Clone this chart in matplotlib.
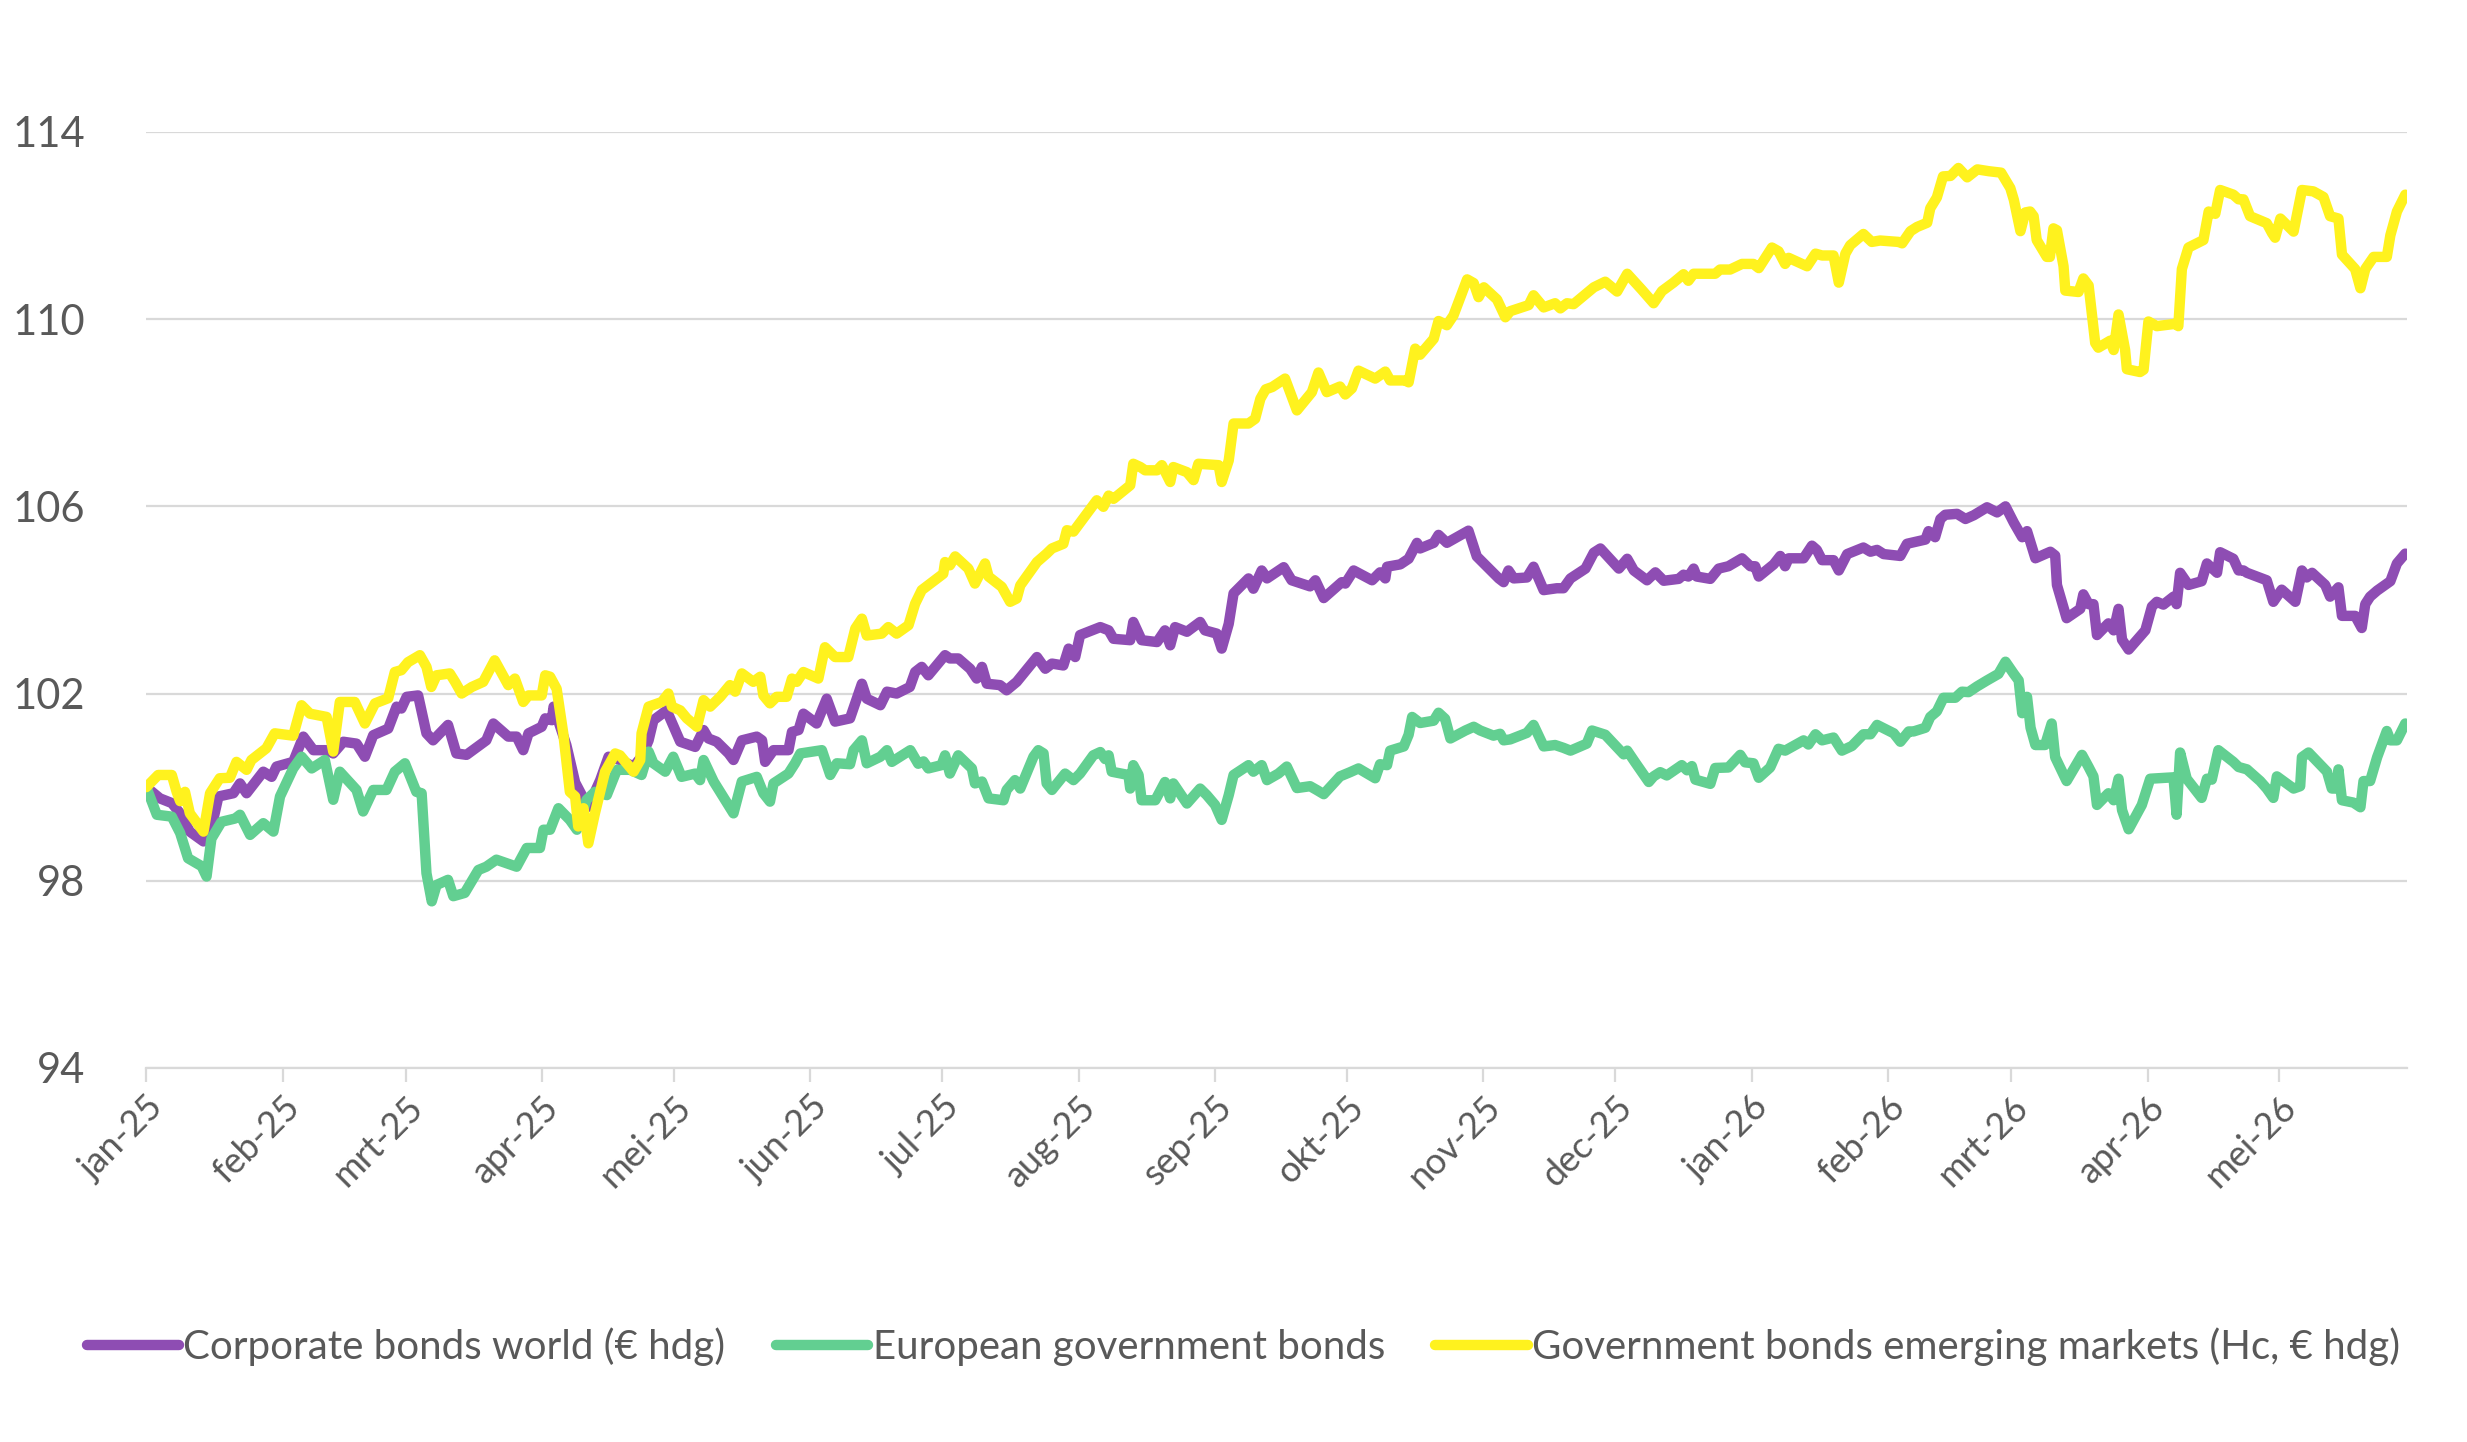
import matplotlib.pyplot as plt
import matplotlib.dates as mdates
import pandas as pd

plt.rcParams['font.family'] = ['Lato', 'DejaVu Sans']

# days since 1 jan 2025, index values
start = pd.Timestamp('2025-01-01')

corp_days = [0, 3.1, 5.8, 7.7, 9.9, 13.0, 14.5, 16.4, 19.8, 21.3, 22.8, 26.6, 28.5, 29.6, 33.4, 35.7, 38.0, 41.0,
             42.5, 44.8, 47.8, 49.7, 51.6, 55.0, 56.9, 58.0, 59.2, 61.8, 63.7, 65.2, 68.6, 70.5, 72.8, 77.3, 78.9,
             82.3, 84.2, 85.7, 86.9, 89.9, 90.7, 92.2, 92.6, 95.5, 97.5, 99.4, 100.5, 103.2, 105.1, 107.7, 110.8,
             112.6, 114.2, 115.3, 118.3, 121.4, 124.8, 126.7, 127.8, 129.7, 132.4, 133.5, 135.4, 138.8, 140.0, 140.7,
             142.6, 146.0, 146.8, 148.3, 149.4, 152.4, 154.7, 156.6, 160.0, 162.7, 163.8, 166.9, 168.4, 170.6, 173.6,
             174.8, 176.3, 177.8, 181.6, 182.7, 184.6, 187.3, 188.8, 190.0, 191.1, 194.1, 195.6, 197.9, 202.5, 204.4,
             205.9, 208.5, 209.7, 211.2, 212.3, 216.9, 218.8, 219.9, 223.7, 224.4, 226.3, 229.8, 231.6, 232.8, 233.9,
             236.6, 239.6, 240.7, 243.4, 244.5, 246.1, 247.2, 250.6, 251.7, 253.6, 254.8, 258.6, 260.4, 264.6, 265.8,
             267.7, 271.8, 272.6, 274.5, 278.7, 280.5, 281.7, 282.1, 285.1, 287.0, 288.9, 289.6, 292.7, 293.8, 295.7,
             300.6, 302.5, 307.5, 308.6, 309.7, 310.9, 313.9, 315.4, 317.7, 320.7, 322.2, 323.8, 327.2, 329.1, 330.6,
             334.8, 336.7, 338.2, 341.2, 343.1, 345.0, 348.4, 349.5, 350.6, 351.8, 352.5, 355.6, 357.5, 359.7, 362.8,
             364.7, 365.8, 366.6, 370.0, 371.5, 372.6, 373.4, 376.8, 378.7, 379.8, 381.0, 383.6, 384.8, 386.7, 390.4,
             392.0, 393.5, 395.0, 398.8, 400.3, 404.5, 405.2, 406.7, 407.9, 409.0, 411.7, 413.6, 415.5, 418.5, 420.8,
             422.7, 424.6, 426.5, 427.6, 429.5, 432.9, 434.0, 434.4, 436.6, 439.7, 440.4, 441.6, 442.7, 443.5, 446.1,
             447.3, 448.4, 449.2, 450.7, 454.5, 456.0, 457.1, 458.6, 460.9, 461.6, 462.4, 464.3, 467.3, 468.5, 470.8,
             471.5, 474.5, 475.7, 476.8, 477.6, 482.1, 483.6, 485.5, 488.6, 490.1, 491.2, 492.4, 495.4, 496.5, 498.4,
             499.2, 502.2, 503.7, 504.5, 505.6, 507.2, 510.2, 510.9, 511.7, 513.6]
corp_vals = [100.0, 99.76, 99.66, 99.44, 99.05, 98.84, 99.0, 99.8, 99.87, 100.08, 99.87, 100.33, 100.22, 100.44,
             100.54, 101.08, 100.79, 100.79, 100.72, 100.97, 100.93, 100.65, 101.11, 101.25, 101.72, 101.68, 101.93,
             101.96, 101.15, 101.0, 101.33, 100.72, 100.69, 101.0, 101.36, 101.08, 101.08, 100.79, 101.15, 101.29,
             101.47, 101.43, 101.72, 100.9, 100.1, 99.76, 99.58, 100.15, 100.65, 100.58, 100.44, 100.65, 101.0,
             101.43, 101.64, 100.97, 100.86, 101.22, 101.04, 100.97, 100.72, 100.58, 101.0, 101.08, 101.0, 100.54,
             100.79, 100.79, 101.18, 101.22, 101.57, 101.36, 101.89, 101.4, 101.47, 102.21, 101.89, 101.75, 102.04,
             102.0, 102.14, 102.46, 102.57, 102.39, 102.82, 102.75, 102.75, 102.53, 102.32, 102.57, 102.21, 102.18,
             102.07, 102.25, 102.78, 102.53, 102.64, 102.6, 102.96, 102.78, 103.25, 103.42, 103.35, 103.17, 103.14,
             103.53, 103.14, 103.1, 103.35, 103.03, 103.42, 103.32, 103.53, 103.35, 103.28, 102.96, 103.49, 104.14,
             104.46, 104.24, 104.63, 104.46, 104.7, 104.42, 104.29, 104.42, 104.04, 104.38, 104.35, 104.63, 104.42,
             104.59, 104.46, 104.71, 104.76, 104.88, 105.22, 105.1, 105.22, 105.39, 105.22, 105.48, 104.93, 104.46,
             104.38, 104.63, 104.46, 104.48, 104.71, 104.21, 104.25, 104.25, 104.46, 104.67, 105.01, 105.1, 104.67,
             104.88, 104.63, 104.42, 104.59, 104.41, 104.45, 104.54, 104.5, 104.67, 104.5, 104.45, 104.67, 104.72,
             104.89, 104.72, 104.72, 104.5, 104.76, 104.94, 104.72, 104.89, 104.89, 105.16, 105.07, 104.85, 104.85,
             104.63, 104.98, 105.12, 105.03, 105.07, 104.98, 104.94, 105.2, 105.29, 105.47, 105.34, 105.73, 105.82,
             105.84, 105.73, 105.81, 105.98, 105.87, 106.0, 105.65, 105.34, 105.47, 104.89, 105.03, 104.95, 104.32,
             103.61, 103.81, 104.12, 103.91, 103.91, 103.25, 103.5, 103.35, 103.81, 103.15, 102.94, 103.35, 103.86,
             103.96, 103.9, 104.07, 103.91, 104.58, 104.32, 104.4, 104.78, 104.58, 105.02, 104.88, 104.63, 104.63,
             104.58, 104.42, 103.96, 104.22, 103.96, 104.63, 104.48, 104.58, 104.32, 104.07, 104.27, 103.66, 103.66,
             103.4, 103.91, 104.07, 104.2, 104.4, 104.58, 104.78, 104.99]

euro_days = [0, 2.4, 5.8, 7.7, 9.5, 12.6, 13.7, 14.8, 17.1, 20.2, 21.3, 23.6, 26.6, 28.9, 30.4, 33.4, 35.3, 37.6,
             40.6, 42.5, 44.0, 47.8, 49.3, 51.6, 54.6, 56.5, 58.8, 61.4, 62.6, 63.7, 64.9, 66.0, 68.6, 69.8, 72.4,
             75.5, 77.3, 79.6, 84.2, 86.5, 89.5, 90.3, 91.8, 93.7, 96.3, 97.9, 100.1, 102.0, 104.7, 107.0, 110.0,
             112.6, 114.2, 115.3, 118.0, 119.8, 121.7, 124.8, 125.9, 126.7, 129.0, 133.5, 135.4, 138.8, 140.3, 141.8,
             142.6, 146.0, 147.5, 148.7, 153.6, 155.5, 157.0, 160.0, 160.8, 162.7, 163.8, 166.9, 168.4, 169.5, 173.7,
             175.5, 176.7, 177.8, 180.8, 181.6, 182.7, 184.6, 187.7, 188.4, 190.0, 191.5, 194.9, 195.6, 197.5, 198.7,
             201.7, 202.8, 204.0, 204.7, 205.9, 208.9, 210.8, 212.3, 215.3, 216.9, 218.0, 218.8, 219.5, 223.3, 223.7,
             224.4, 225.6, 226.3, 229.4, 231.6, 232.8, 233.5, 236.6, 239.6, 241.1, 243.0, 244.5, 246.1, 247.2, 250.6,
             251.7, 253.6, 254.8, 257.4, 259.3, 261.6, 264.6, 266.1, 267.7, 271.4, 273.7, 275.6, 279.4, 280.5, 282.1,
             282.8, 285.9, 287.0, 287.8, 289.6, 292.7, 293.8, 295.3, 296.5, 299.9, 301.8, 303.3, 306.3, 307.8, 308.6,
             310.1, 313.9, 315.4, 317.7, 320.3, 322.2, 323.8, 327.5, 328.7, 331.7, 335.9, 336.7, 338.5, 341.6, 342.7,
             344.2, 345.7, 349.1, 350.3, 351.4, 352.2, 355.6, 356.7, 359.7, 362.4, 363.5, 365.4, 366.6, 369.2, 371.1,
             372.6, 374.5, 376.8, 377.9, 379.5, 381.0, 383.6, 385.5, 387.8, 390.4, 392.0, 393.5, 395.8, 397.3, 398.8,
             400.7, 401.8, 404.5, 405.6, 407.1, 408.6, 411.3, 412.8, 414.3, 416.2, 418.5, 421.1, 422.7, 424.6, 425.7,
             426.5, 427.6, 428.4, 429.5, 431.7, 433.2, 434.0, 436.6, 440.1, 441.6, 442.7, 443.5, 446.1, 447.3, 448.4,
             449.2, 450.7, 453.7, 455.6, 460.9, 461.6, 462.4, 463.9, 467.3, 468.5, 469.6, 471.1, 474.5, 475.7, 477.6,
             480.6, 482.1, 483.6, 484.4, 488.2, 489.7, 490.1, 491.6, 495.8, 496.9, 498.1, 498.4, 499.2, 501.8, 503.4,
             504.1, 505.6, 507.2, 509.4, 510.2, 511.7, 513.6]
euro_vals = [100.0, 99.41, 99.37, 99.02, 98.48, 98.31, 98.09, 98.9, 99.26, 99.33, 99.41, 98.98, 99.23, 99.05, 99.8,
             100.4, 100.65, 100.4, 100.58, 99.73, 100.33, 99.94, 99.48, 99.94, 99.94, 100.33, 100.51, 99.9, 99.87,
             98.16, 97.56, 97.91, 98.02, 97.67, 97.74, 98.23, 98.3, 98.45, 98.3, 98.7, 98.7, 99.09, 99.09, 99.55,
             99.3, 99.09, 99.73, 99.9, 99.83, 100.37, 100.37, 100.26, 100.76, 100.51, 100.33, 100.65, 100.22, 100.29,
             100.15, 100.58, 100.12, 99.44, 100.12, 100.22, 99.87, 99.69, 100.08, 100.29, 100.51, 100.72, 100.79,
             100.26, 100.51, 100.49, 100.79, 101.0, 100.51, 100.65, 100.79, 100.54, 100.79, 100.5, 100.55, 100.4,
             100.47, 100.68, 100.29, 100.68, 100.4, 100.08, 100.12, 99.76, 99.72, 99.94, 100.15, 99.97, 100.65,
             100.79, 100.72, 100.08, 99.94, 100.29, 100.15, 100.29, 100.68, 100.75, 100.6, 100.68, 100.33, 100.26,
             99.97, 100.47, 100.26, 99.72, 99.72, 100.11, 99.76, 100.08, 99.65, 99.97, 99.83, 99.62, 99.3, 99.83,
             100.26, 100.47, 100.33, 100.47, 100.15, 100.29, 100.44, 99.98, 100.02, 99.94, 99.85, 100.23, 100.32,
             100.4, 100.19, 100.49, 100.47, 100.78, 100.87, 101.12, 101.5, 101.37, 101.42, 101.59, 101.46, 101.04,
             101.21, 101.29, 101.21, 101.1, 101.14, 101.0, 101.02, 101.16, 101.33, 100.87, 100.9, 100.84, 100.78,
             100.93, 101.21, 101.12, 100.7, 100.78, 100.53, 100.11, 100.23, 100.32, 100.25, 100.47, 100.36, 100.45,
             100.16, 100.07, 100.41, 100.42, 100.69, 100.53, 100.51, 100.2, 100.42, 100.82, 100.78, 100.88, 101.0,
             100.91, 101.13, 101.0, 101.06, 100.78, 100.88, 101.13, 101.13, 101.33, 101.22, 101.15, 100.97, 101.19,
             101.19, 101.27, 101.5, 101.62, 101.91, 101.91, 102.04, 102.03, 102.15, 102.28, 102.42, 102.68, 102.42,
             102.28, 101.58, 101.93, 101.27, 100.9, 100.9, 101.36, 100.64, 100.13, 100.69, 100.43, 100.23, 99.62,
             99.87, 99.72, 100.18, 99.51, 99.1, 99.62, 100.18, 100.21, 99.41, 100.74, 100.18, 99.77, 100.18, 100.16,
             100.79, 100.54, 100.43, 100.38, 100.13, 99.97, 99.77, 100.23, 99.97, 100.02, 100.64, 100.74, 100.33,
             99.97, 99.97, 100.38, 99.72, 99.67, 99.57, 100.13, 100.13, 100.64, 101.2, 101.0, 101.0, 101.36]

em_days = [0, 2.7, 5.8, 6.9, 7.7, 8.8, 9.9, 13.0, 14.5, 16.7, 19.0, 20.5, 22.8, 23.9, 27.3, 29.2, 33.4, 35.3, 37.2,
           41.0, 42.5, 44.0, 47.4, 49.7, 52.0, 55.0, 56.5, 58.0, 59.5, 62.2, 63.7, 64.8, 66.0, 69.0, 70.2, 71.7,
           74.0, 76.6, 79.2, 82.3, 83.8, 85.7, 86.9, 89.9, 90.7, 91.8, 93.3, 94.8, 96.3, 97.5, 98.2, 99.4, 100.5,
           102.0, 104.3, 106.6, 107.7, 110.8, 112.3, 112.6, 114.2, 117.2, 118.7, 119.5, 121.4, 122.9, 125.2, 126.7,
           128.2, 130.5, 132.7, 133.9, 135.4, 138.0, 139.6, 140.3, 141.8, 143.3, 145.6, 146.8, 147.9, 149.4, 152.8,
           154.3, 156.6, 159.6, 161.2, 162.7, 163.8, 167.2, 168.7, 170.6, 173.3, 174.8, 176.3, 181.2, 181.6, 182.7,
           183.9, 186.9, 188.4, 190.7, 191.5, 194.5, 196.4, 197.9, 198.7, 202.5, 204.7, 205.9, 208.5, 209.3, 210.8,
           216.1, 217.6, 218.8, 219.9, 223.7, 224.4, 226.0, 227.1, 229.8, 230.9, 232.8, 233.5, 236.6, 238.1, 239.2,
           243.8, 244.5, 246.1, 247.2, 250.6, 252.1, 253.3, 254.5, 256.0, 258.9, 261.6, 265.0, 266.5, 268.4, 271.4,
           272.6, 274.1, 275.6, 279.4, 281.7, 282.8, 286.2, 287.0, 288.5, 289.6, 292.7, 293.8, 295.7, 297.2, 300.3,
           301.8, 302.9, 304.1, 307.1, 309.0, 310.1, 314.3, 315.4, 317.7, 320.3, 321.5, 323.0, 324.5, 329.1, 331.7,
           334.4, 336.7, 340.0, 342.7, 344.6, 347.2, 349.5, 350.6, 351.8, 356.7, 357.8, 360.1, 362.8, 365.4, 366.6,
           369.6, 371.1, 372.6, 373.4, 377.6, 379.5, 381.0, 383.6, 384.8, 386.3, 387.4, 390.4, 392.3, 394.2, 398.4,
           399.2, 401.1, 402.6, 404.9, 405.6, 407.1, 408.5, 410.2, 412.0, 414.0, 416.3, 419.0, 421.7, 423.8, 424.6,
           426.1, 427.2, 428.3, 429.1, 429.8, 432.1, 432.8, 433.6, 434.4, 435.9, 436.3, 439.3, 440.4, 441.6, 443.1,
           443.8, 446.5, 447.3, 448.4, 449.9, 450.3, 453.3, 454.1, 455.2, 457.1, 461.3, 462.0, 462.8, 464.3, 467.7,
           468.9, 470.4, 471.5, 474.5, 475.7, 476.8, 478.3, 482.1, 483.3, 484.0, 485.2, 488.2, 490.1, 492.7, 495.0,
           496.5, 498.4, 499.2, 502.2, 503.4, 504.5, 506.4, 509.4, 510.2, 511.7, 513.6]
em_vals = [100.0, 100.26, 100.26, 99.9, 99.7, 99.9, 99.44, 99.05, 99.87, 100.19, 100.2, 100.54, 100.37, 100.58,
           100.83, 101.15, 101.1, 101.75, 101.57, 101.5, 100.76, 101.82, 101.82, 101.36, 101.79, 101.9, 102.46,
           102.5, 102.67, 102.82, 102.57, 102.14, 102.39, 102.43, 102.25, 102.0, 102.14, 102.25, 102.71, 102.18,
           102.32, 101.82, 101.96, 101.96, 102.39, 102.36, 102.1, 101.15, 99.9, 99.8, 99.16, 99.55, 98.8, 99.44,
           100.33, 100.72, 100.68, 100.33, 100.58, 101.15, 101.72, 101.82, 102.0, 101.72, 101.64, 101.47, 101.29,
           101.86, 101.72, 101.93, 102.18, 102.04, 102.43, 102.25, 102.36, 101.96, 101.79, 101.93, 101.93, 102.32,
           102.25, 102.46, 102.32, 102.99, 102.78, 102.78, 103.39, 103.6, 103.24, 103.28, 103.42, 103.28, 103.46,
           103.92, 104.21, 104.56, 104.81, 104.74, 104.93, 104.67, 104.35, 104.78, 104.5, 104.28, 103.96, 104.03,
           104.31, 104.81, 104.99, 105.1, 105.2, 105.49, 105.46, 106.13, 105.99, 106.23, 106.16, 106.45, 106.91,
           106.84, 106.77, 106.77, 106.88, 106.52, 106.84, 106.73, 106.56, 106.91, 106.88, 106.52, 106.98, 107.77,
           107.77, 107.87, 108.3, 108.5, 108.55, 108.73, 108.05, 108.44, 108.86, 108.44, 108.56, 108.39, 108.52,
           108.9, 108.73, 108.88, 108.69, 108.69, 108.65, 109.37, 109.24, 109.58, 109.96, 109.87, 110.08, 110.85,
           110.77, 110.47, 110.68, 110.42, 110.04, 110.17, 110.3, 110.51, 110.25, 110.34, 110.23, 110.34, 110.32,
           110.68, 110.8, 110.59, 110.97, 110.63, 110.34, 110.6, 110.78, 110.96, 110.82, 110.97, 110.97, 111.06,
           111.06, 111.18, 111.18, 111.09, 111.53, 111.45, 111.18, 111.31, 111.13, 111.4, 111.36, 111.36, 110.78,
           111.4, 111.58, 111.82, 111.65, 111.68, 111.65, 111.62, 111.88, 111.97, 112.06, 112.37, 112.6, 113.05,
           113.06, 113.23, 113.03, 113.2, 113.16, 113.13, 112.8, 112.55, 111.88, 112.28, 112.3, 112.2, 111.69,
           111.33, 111.33, 111.94, 111.9, 111.13, 110.61, 110.58, 110.87, 110.72, 109.49, 109.39, 109.54, 109.34,
           110.1, 109.34, 108.93, 108.87, 108.92, 109.95, 109.85, 109.9, 109.85, 111.07, 111.53, 111.69, 112.3,
           112.25, 112.76, 112.66, 112.56, 112.56, 112.2, 112.05, 111.84, 111.74, 112.15, 111.87, 112.76, 112.73,
           112.61, 112.2, 112.15, 111.38, 111.07, 110.66, 111.07, 111.33, 111.33, 111.79, 112.3, 112.66]

series_names = ['Corporate bonds world (€ hdg)', 'European government bonds',
                'Government bonds emerging markets (Hc, € hdg)']
series_colors = ['#8E4DB3', '#62CF91', '#FFF21E']
month_labels = ['jan-25', 'feb-25', 'mrt-25', 'apr-25', 'mei-25', 'jun-25', 'jul-25', 'aug-25', 'sep-25',
                'okt-25', 'nov-25', 'dec-25', 'jan-26', 'feb-26', 'mrt-26', 'apr-26', 'mei-26']
y_ticks = [94, 98, 102, 106, 110, 114]

def to_dates(days):
    return start + pd.to_timedelta(days, unit='D')

fig = plt.figure(figsize=(24.67, 14.42), dpi=100)
ax = fig.add_axes([0.0593, 0.2594, 0.9164, 0.6491])

data = [(corp_days, corp_vals), (euro_days, euro_vals), (em_days, em_vals)]
for (d, v), name, col in zip(data, series_names, series_colors):
    ax.plot(to_dates(d), v, color=col, lw=7.5, label=name, solid_joinstyle='round', solid_capstyle='round')

ax.set_ylim(94, 114)
ax.set_yticks(y_ticks)
ax.set_xlim(start, start + pd.Timedelta(days=514))
ax.set_xticks(pd.date_range('2025-01-01', periods=len(month_labels), freq='MS'))
ax.set_xticklabels(month_labels, rotation=45, ha='right', rotation_mode='anchor')

ax.grid(axis='y', color='#D9D9D9', lw=1.6)
ax.set_axisbelow(True)
for s in ['top', 'right', 'left']:
    ax.spines[s].set_visible(False)
ax.spines['bottom'].set_color('#D9D9D9')
ax.spines['bottom'].set_linewidth(1.6)
ax.tick_params(axis='x', colors='#D9D9D9', length=10, width=1.6, labelcolor='#595959', labelsize=26, pad=6)
ax.tick_params(axis='y', length=0, labelcolor='#595959', labelsize=30, pad=44)

fig.legend(loc='center', bbox_to_anchor=(0.504, 0.066), ncol=3, frameon=False, fontsize=29,
           handlelength=2.3, handletextpad=0.1, columnspacing=1.25, labelcolor='#595959')

fig.savefig('out.png', dpi=100)
